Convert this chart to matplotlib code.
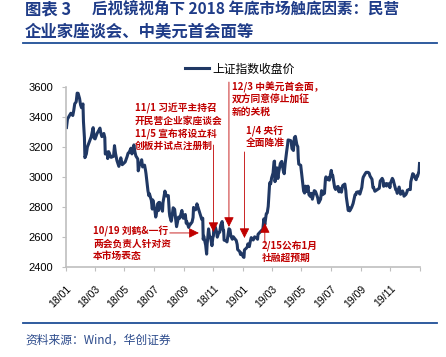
import matplotlib
matplotlib.use("Agg")
import matplotlib.pyplot as plt
import matplotlib.dates as mdates
import pandas as pd

# fontes: números em Liberation Sans, chinês em Noto Sans CJK
plt.rcParams['font.family'] = ['Liberation Sans', 'Noto Sans CJK SC', 'DejaVu Sans']
CJK = ['Noto Sans CJK SC', 'DejaVu Sans']

AZUL_TITULO = '#1F3C88'
AZUL_LINHA = '#203864'
VERMELHO = '#C00000'
CINZA = '#BFBFBF'

# ---------------------- DADOS ----------------------
# 上证指数收盘价
datas_2018 = [
    "01-02", "01-04", "01-08", "01-11", "01-15", "01-17", "01-19", "01-22", "01-24", "01-26",
    "01-29", "01-31", "02-02", "02-05", "02-06", "02-08", "02-09", "02-12", "02-14", "02-22",
    "02-26", "02-28", "03-02", "03-06", "03-09", "03-12", "03-14", "03-16", "03-20", "03-22",
    "03-23", "03-27", "03-28", "03-30", "04-03", "04-04", "04-09", "04-11", "04-13", "04-16",
    "04-18", "04-20", "04-24", "04-27", "05-03", "05-07", "05-09", "05-11", "05-15", "05-17",
    "05-21", "05-23", "05-25", "05-29", "05-30", "06-01", "06-04", "06-06", "06-08", "06-12",
    "06-14", "06-15", "06-19", "06-21", "06-22", "06-26", "06-28", "06-29", "07-03", "07-05",
    "07-06", "07-10", "07-11", "07-13", "07-17", "07-19", "07-20", "07-24", "07-26", "07-27",
    "07-31", "08-02", "08-03", "08-06", "08-08", "08-10", "08-13", "08-15", "08-17", "08-21",
    "08-23", "08-24", "08-28", "08-30", "08-31", "09-04", "09-06", "09-07", "09-11", "09-13",
    "09-14", "09-18", "09-20", "09-21", "09-25", "09-27", "09-28", "10-08", "10-10", "10-11",
    "10-12", "10-16", "10-18", "10-19", "10-22", "10-24", "10-26", "10-29", "10-31", "11-01",
    "11-02", "11-05", "11-07", "11-09", "11-12", "11-14", "11-16", "11-19", "11-21", "11-22",
    "11-23", "11-27", "11-29", "11-30", "12-03", "12-05", "12-07", "12-10", "12-12", "12-14",
    "12-18", "12-20", "12-21", "12-25", "12-27", "12-28",
]
fechamento_2018 = [
    3330, 3385, 3409, 3425, 3410, 3444, 3488, 3501, 3559, 3558,
    3523, 3481, 3462, 3487, 3370, 3262, 3129, 3154, 3199, 3268,
    3329, 3259, 3254, 3290, 3307, 3326, 3291, 3269, 3290, 3263,
    3153, 3166, 3123, 3169, 3137, 3131, 3138, 3209, 3159, 3110,
    3091, 3071, 3128, 3082, 3100, 3136, 3159, 3163, 3192, 3154,
    3214, 3169, 3141, 3120, 3041, 3075, 3091, 3115, 3067, 3079,
    3044, 3022, 2908, 2875, 2889, 2844, 2786, 2847, 2786, 2733,
    2747, 2827, 2777, 2831, 2798, 2772, 2829, 2906, 2882, 2873,
    2876, 2768, 2740, 2705, 2744, 2795, 2785, 2723, 2669, 2733,
    2724, 2729, 2777, 2737, 2725, 2750, 2691, 2702, 2664, 2686,
    2682, 2700, 2730, 2797, 2781, 2791, 2821, 2717, 2725, 2584,
    2606, 2546, 2486, 2550, 2654, 2604, 2598, 2542, 2603, 2606,
    2676, 2665, 2641, 2599, 2630, 2632, 2679, 2703, 2646, 2645,
    2579, 2575, 2567, 2588, 2655, 2649, 2606, 2585, 2602, 2593,
    2577, 2550, 2516, 2504, 2483, 2494,
]
datas_2019 = [
    "01-02", "01-03", "01-04", "01-08", "01-10", "01-11", "01-14", "01-16", "01-18", "01-22",
    "01-24", "01-25", "01-29", "01-31", "02-01", "02-11", "02-13", "02-15", "02-18", "02-20",
    "02-22", "02-25", "02-27", "03-01", "03-04", "03-06", "03-07", "03-08", "03-12", "03-14",
    "03-15", "03-19", "03-21", "03-22", "03-25", "03-27", "03-29", "04-01", "04-03", "04-04",
    "04-08", "04-10", "04-12", "04-15", "04-17", "04-19", "04-22", "04-24", "04-25", "04-26",
    "04-30", "05-06", "05-08", "05-10", "05-13", "05-15", "05-17", "05-20", "05-22", "05-24",
    "05-28", "05-30", "05-31", "06-04", "06-06", "06-10", "06-12", "06-14", "06-18", "06-20",
    "06-21", "06-25", "06-27", "06-28", "07-02", "07-04", "07-05", "07-09", "07-11", "07-12",
    "07-16", "07-18", "07-19", "07-23", "07-25", "07-26", "07-30", "08-01", "08-02", "08-06",
    "08-08", "08-09", "08-13", "08-15", "08-16", "08-20", "08-22", "08-23", "08-27", "08-29",
    "08-30", "09-03", "09-05", "09-06", "09-10", "09-12", "09-16", "09-18", "09-20", "09-24",
    "09-26", "09-27", "09-30", "10-09", "10-11", "10-15", "10-17", "10-18", "10-22", "10-24",
    "10-25", "10-29", "10-31", "11-01", "11-05", "11-07", "11-08", "11-12", "11-14", "11-15",
    "11-19", "11-21", "11-22", "11-26", "11-28", "11-29", "12-03", "12-05", "12-06", "12-10",
    "12-12", "12-13", "12-17", "12-19", "12-20", "12-24", "12-26", "12-27", "12-30", "12-31",
]
fechamento_2019 = [
    2466, 2464, 2514, 2526, 2535, 2554, 2536, 2570, 2596, 2580,
    2592, 2601, 2594, 2585, 2618, 2653, 2721, 2682, 2755, 2761,
    2804, 2961, 2954, 2994, 3027, 3103, 3106, 2969, 3061, 2990,
    3021, 3090, 3101, 3104, 3043, 3022, 3091, 3170, 3216, 3247,
    3244, 3241, 3189, 3177, 3263, 3271, 3216, 3202, 3124, 3086,
    3078, 2906, 2893, 2939, 2903, 2939, 2882, 2870, 2891, 2852,
    2909, 2905, 2899, 2862, 2827, 2852, 2909, 2882, 2891, 2987,
    3001, 2982, 2996, 2979, 3044, 3005, 3011, 2929, 2917, 2930,
    2937, 2901, 2924, 2899, 2937, 2944, 2953, 2909, 2868, 2777,
    2795, 2774, 2797, 2815, 2823, 2881, 2884, 2898, 2902, 2890,
    2886, 2930, 2985, 2999, 3022, 3031, 3031, 3026, 3006, 2985,
    2929, 2932, 2905, 2925, 2973, 2991, 2977, 2938, 2955, 2940,
    2955, 2954, 2929, 2958, 2991, 2978, 2964, 2915, 2909, 2891,
    2933, 2903, 2885, 2907, 2890, 2872, 2884, 2899, 2912, 2917,
    2916, 2968, 3022, 3017, 3005, 2982, 3007, 3005, 3040, 3090,
]

# eventos: (texto, canto sup. esquerdo do texto, início e ponta da seta)
textos = [
    "11/1 习近平主持召\n开民营企业家座谈会\n11/5 宣布将设立科\n创板并试点注册制",
    "12/3 中美元首会面，\n双方同意停止加征\n新的关税",
    "1/4 央行\n全面降准",
    "2/15公布1月\n社融超预期",
    "10/19 刘鹤&一行\n两会负责人针对资\n本市场表态",
]
pos_textos = [("2018-05-23", 3493), ("2018-12-09", 3637), ("2019-01-07", 3343),
              ("2019-02-09", 2578), ("2018-02-26", 2672)]
setas_inicio = [("2018-11-01", 3213), ("2018-12-03", 3633), ("2019-01-04", 3167),
                ("2019-02-15", 2560), ("2018-08-03", 2627)]
setas_ponta = [("2018-11-01", 2633), ("2018-12-03", 2667), ("2019-01-04", 2593),
               ("2019-02-15", 2693), ("2018-10-02", 2627)]

y_ticks = [2400, 2600, 2800, 3000, 3200, 3400, 3600]

# ---------------------- GRÁFICO ----------------------
datas = pd.to_datetime(["2018-" + d for d in datas_2018] + ["2019-" + d for d in datas_2019])
valores = fechamento_2018 + fechamento_2019

fig = plt.figure(figsize=(4.46, 3.57), dpi=100)
ax = fig.add_axes([66 / 446, 1 - 267 / 357, 354 / 446, 180 / 357])

ax.plot(datas, valores, color=AZUL_LINHA, lw=2.2, label="上证指数收盘价", solid_joinstyle='round')

ax.set_xlim(pd.Timestamp("2018-01-01"), pd.Timestamp("2020-01-01"))
ax.set_ylim(2400, 3600)
ax.set_yticks(y_ticks)
ax.tick_params(axis='y', labelsize=8, length=3, color=CINZA, pad=6)

ticks_x = pd.date_range("2018-01-01", "2020-01-01", freq="2MS")
ax.set_xticks(ticks_x)
ax.set_xticklabels([t.strftime("%y/%m") for t in ticks_x[:-1]] + [""],
                   rotation=45, ha='right', va='top', rotation_mode='anchor', fontsize=7.5)
ax.tick_params(axis='x', length=3, color=CINZA, pad=9)

for lado in ['top', 'right']:
    ax.spines[lado].set_visible(False)
for lado in ['left', 'bottom']:
    ax.spines[lado].set_color(CINZA)
    ax.spines[lado].set_linewidth(1.2)

# anotações em vermelho
for texto, pos in zip(textos, pos_textos):
    ax.text(pd.Timestamp(pos[0]), pos[1], texto, color=VERMELHO, fontsize=7.0,
            fontweight='bold', family=CJK, ha='left', va='top', linespacing=1.22,
            clip_on=False)
for ini, fim in zip(setas_inicio, setas_ponta):
    ax.annotate("", xy=(pd.Timestamp(fim[0]), fim[1]),
                xytext=(pd.Timestamp(ini[0]), ini[1]),
                arrowprops=dict(arrowstyle='-|>,head_length=0.6,head_width=0.3',
                                color=VERMELHO, lw=0.6, shrinkA=0, shrinkB=0),
                annotation_clip=False)

# legenda
leg = ax.legend(loc='center left', bbox_to_anchor=(0.336, 1.1), frameon=False,
                borderaxespad=0, borderpad=0, handlelength=2.0, handletextpad=0.3,
                prop={'family': CJK, 'size': 8.5})
for linha in leg.get_lines():
    linha.set_linewidth(2.2)

# título e fonte
fig.text(25 / 446, 1 - 9 / 357, "图表 3",
         family=CJK, fontsize=11.8, fontweight='bold', color=AZUL_TITULO, va='center')
fig.text(92 / 446, 1 - 9 / 357, "后视镜视角下 2018 年底市场触底因素：民营",
         family=CJK, fontsize=11.2, fontweight='bold', color=AZUL_TITULO, va='center')
fig.text(25 / 446, 1 - 32 / 357, "企业家座谈会、中美元首会面等",
         family=CJK, fontsize=11.8, fontweight='bold', color=AZUL_TITULO, va='center')
fig.add_artist(plt.Line2D([23 / 446, 437 / 446], [1 - 43 / 357, 1 - 43 / 357],
                          color='#1F4E96', lw=1.3))
fig.add_artist(plt.Line2D([23 / 446, 437 / 446], [1 - 323 / 357, 1 - 323 / 357],
                          color='#1F4E96', lw=1.3))
fig.text(25 / 446, 1 - 340 / 357, "资料来源：Wind，华创证券", family=CJK, fontsize=8.5,
         style='italic', color='#2B4A8B', va='center')

fig.savefig("out.png", dpi=100)
